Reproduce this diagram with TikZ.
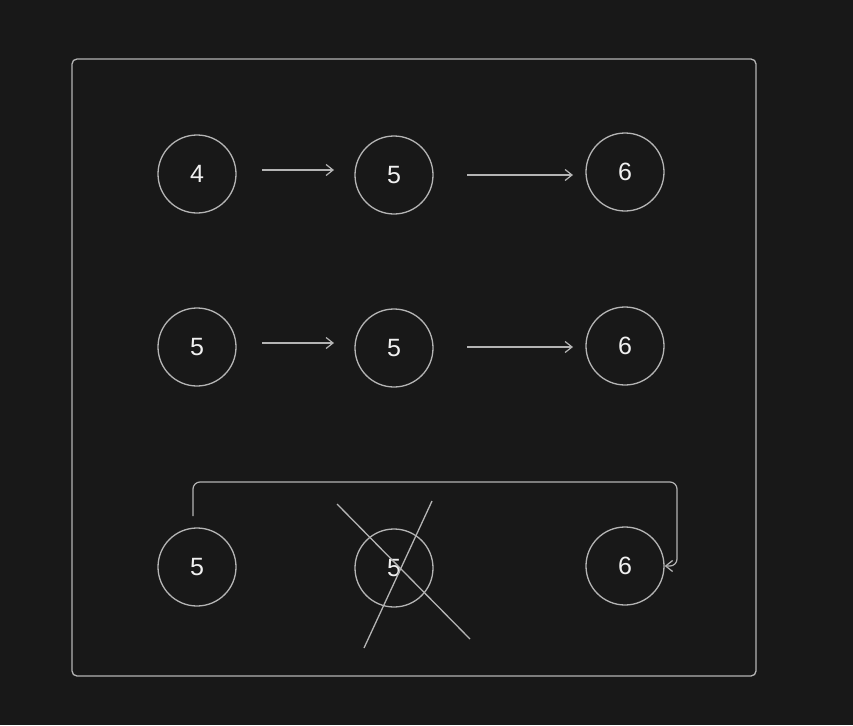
\documentclass[tikz,border=0pt]{standalone}
\usepackage{fontspec}
\setmainfont{Liberation Sans}
\usetikzlibrary{arrows.meta}
\definecolor{bg}{HTML}{181818}
\definecolor{linegray}{HTML}{B4B4B4}
\definecolor{txt}{HTML}{F0F0F0}
\begin{document}
\begin{tikzpicture}[x=1pt,y=-1pt,
  num/.style={circle,draw=linegray,line width=1.3pt,minimum size=78pt,inner sep=0pt,text=txt,font=\fontsize{25}{27}\selectfont},
  conn/.style={draw=linegray,line width=1.2pt,-{Straight Barb[length=7pt,width=11pt,line width=1.2pt]}},
  strike/.style={draw=linegray,line width=1.3pt},
  frame/.style={draw=linegray,line width=1.3pt,rounded corners=5pt}]
\fill[bg] (0,0) rectangle (853,725);
\useasboundingbox (0,0) rectangle (853,725);
\draw[frame] (72,59) rectangle (756,676);
% row 1
\node[num] (a1) at (197,174) {4};
\node[num] (a2) at (394,175) {5};
\node[num] (a3) at (625,172) {6};
% row 2
\node[num] (b1) at (197,347) {5};
\node[num] (b2) at (394,348) {5};
\node[num] (b3) at (625,346) {6};
% row 3
\node[num] (c1) at (197,567) {5};
\node[num] (c2) at (394,568) {5};
\node[num] (c3) at (625,566) {6};
% arrows
\coordinate (a1s) at (262,170); \coordinate (a1e) at (334,170);
\coordinate (a2s) at (467,175); \coordinate (a2e) at (573,175);
\coordinate (b1s) at (262,343); \coordinate (b1e) at (334,343);
\coordinate (b2s) at (467,347); \coordinate (b2e) at (573,347);
\draw[conn] (a1s) -- (a1e);
\draw[conn] (a2s) -- (a2e);
\draw[conn] (b1s) -- (b1e);
\draw[conn] (b2s) -- (b2e);
% bottom loop
\coordinate (cs) at (193,516);
\draw[conn,rounded corners=7pt] (cs) -- (193,482) -- (677,482) -- (677,566) -- (c3.east);
% cross
\coordinate (x1) at (337,504); \coordinate (x2) at (470,639);
\coordinate (y1) at (432,501); \coordinate (y2) at (364,648);
\draw[strike] (x1) -- (x2);
\draw[strike] (y1) -- (y2);
\end{tikzpicture}
\end{document}
